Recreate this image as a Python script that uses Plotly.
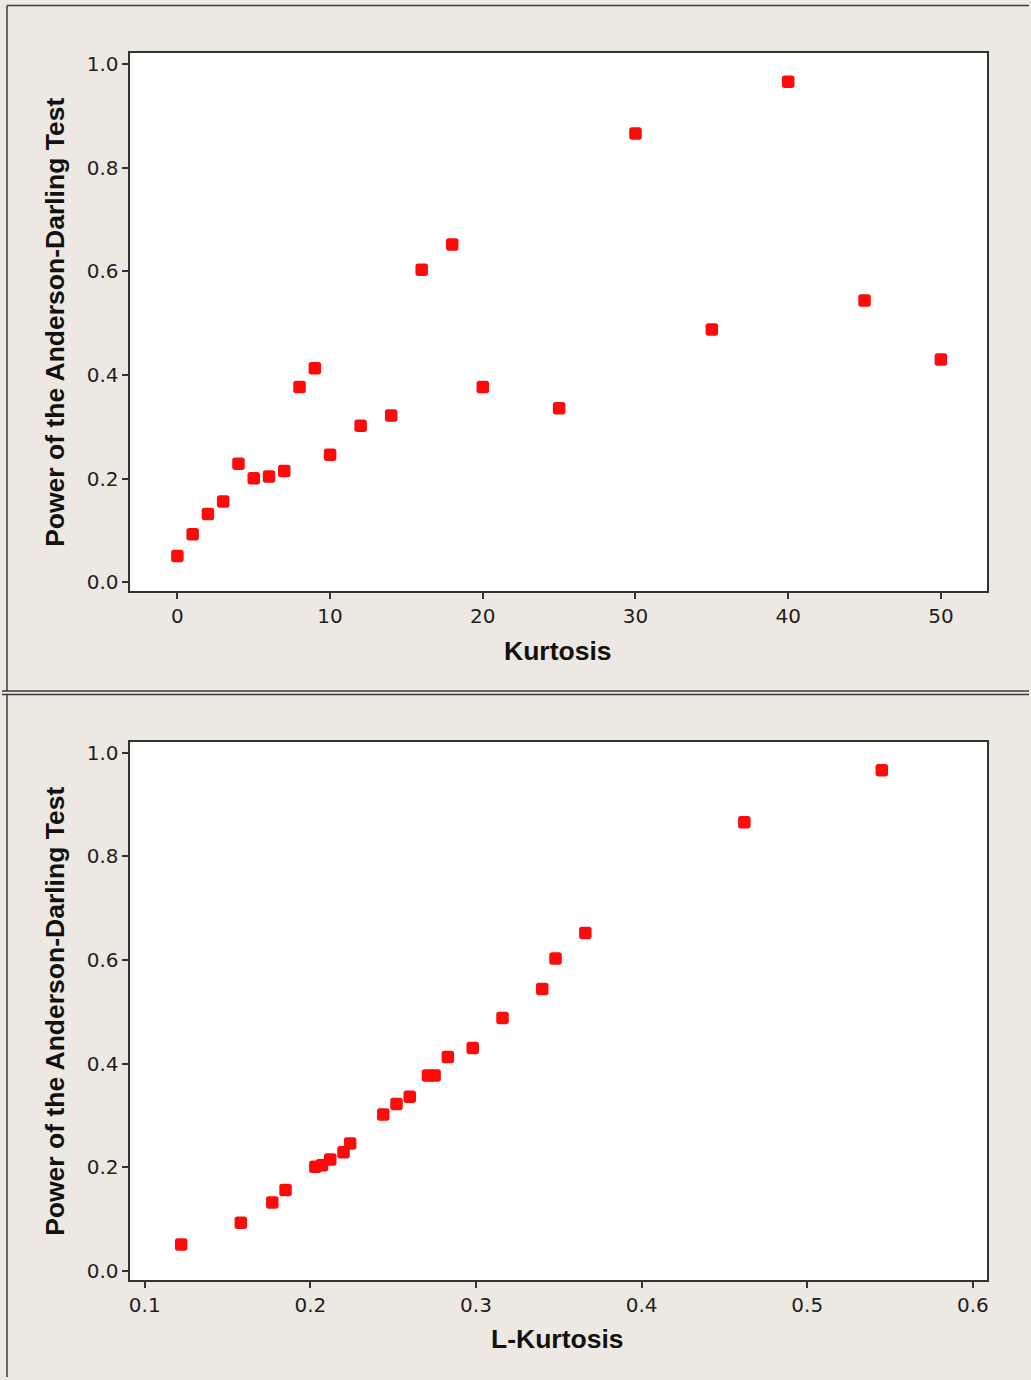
import plotly.graph_objects as go

kurtosis = [0, 1, 2, 3, 4, 5, 6, 7, 8, 9, 10, 12, 14, 16, 18, 20, 25, 30, 35, 40, 45, 50]
power = [0.051, 0.093, 0.132, 0.156, 0.229, 0.201, 0.204, 0.215, 0.377, 0.413, 0.246,
         0.302, 0.322, 0.603, 0.652, 0.377, 0.336, 0.866, 0.488, 0.966, 0.544, 0.430]
l_kurtosis = [0.122, 0.158, 0.177, 0.185, 0.220, 0.203, 0.207, 0.212, 0.271, 0.283, 0.224,
              0.244, 0.252, 0.348, 0.366, 0.275, 0.260, 0.462, 0.316, 0.545, 0.340, 0.298]

x_ticks_top = [0, 10, 20, 30, 40, 50]
x_ticks_bot = [0.1, 0.2, 0.3, 0.4, 0.5, 0.6]
y_ticks = [0.0, 0.2, 0.4, 0.6, 0.8, 1.0]

W, H = 1031, 1380
BG = "#EDE9E2"
AX = "#333333"
TXT = "#1E1E1E"
RED = "#FF0A0A"

fig = go.Figure()
marker = dict(symbol="square", size=7, color=RED, line=dict(width=5.5, color=RED))
fig.add_trace(go.Scatter(x=kurtosis, y=power, mode="markers", marker=marker,
                         xaxis="x", yaxis="y", showlegend=False))
fig.add_trace(go.Scatter(x=l_kurtosis, y=power, mode="markers", marker=marker,
                         xaxis="x2", yaxis="y2", showlegend=False))

def px(v):
    return v / W

def py(v):
    return 1 - v / H

tickfont = dict(family="DejaVu Sans", size=20, color=TXT)
axcommon = dict(showline=True, linecolor=AX, linewidth=2, mirror=True, showgrid=False,
                zeroline=False, ticks="outside", ticklen=6, tickwidth=2, tickcolor=AX,
                tickfont=tickfont)

fig.update_layout(
    width=W, height=H,
    margin=dict(l=0, r=0, t=0, b=0),
    paper_bgcolor=BG,
    plot_bgcolor="white",
    xaxis=dict(domain=[px(129), px(989)], range=[-3.07, 53.03], tickvals=x_ticks_top,
               anchor="y", **axcommon),
    yaxis=dict(domain=[py(592), py(52)], range=[-0.0173, 1.0218], tickvals=y_ticks,
               tickformat=".1f", anchor="x", **axcommon),
    xaxis2=dict(domain=[px(129), px(989)], range=[0.0914, 0.6086], tickvals=x_ticks_bot,
                tickformat=".1f", anchor="y2", **axcommon),
    yaxis2=dict(domain=[py(1283), py(743)], range=[-0.018, 1.021], tickvals=y_ticks,
                tickformat=".1f", anchor="x2", **axcommon),
)

titlefont = dict(family="Liberation Sans", size=26.5, color="#111111")
ann = [
    dict(text="<b>Kurtosis</b>", x=px(558), y=py(652)),
    dict(text="<b>L-Kurtosis</b>", x=px(558), y=py(1342)),
    dict(text="<b>Power of the Anderson-Darling Test</b>", x=px(53), y=py(322), textangle=-90),
    dict(text="<b>Power of the Anderson-Darling Test</b>", x=px(53), y=py(1013), textangle=-90),
]
for a in ann:
    fig.add_annotation(xref="paper", yref="paper", showarrow=False, xanchor="center",
                       yanchor="middle", font=titlefont, **a)

line = dict(color="#3A3A3A", width=1.5)
fig.add_shape(type="line", xref="paper", yref="paper", x0=px(5), x1=1, y0=py(4.5), y1=py(4.5), line=line)
fig.add_shape(type="line", xref="paper", yref="paper", x0=px(5), x1=px(5), y0=py(4.5), y1=py(692), line=line)
fig.add_shape(type="line", xref="paper", yref="paper", x0=0, x1=1, y0=py(692), y1=py(692), line=line)
fig.add_shape(type="line", xref="paper", yref="paper", x0=0, x1=1, y0=py(695.5), y1=py(695.5), line=line)
fig.add_shape(type="line", xref="paper", yref="paper", x0=px(5), x1=px(5), y0=py(695.5), y1=0, line=line)

post = (
    "document.body.style.margin='0';document.body.style.overflow='hidden';"
    "document.querySelectorAll('.scatterlayer path.point').forEach(function(p){"
    "p.style.strokeLinejoin='round';});"
)
fig.write_html("out.html", config={"displayModeBar": False}, post_script=post)
